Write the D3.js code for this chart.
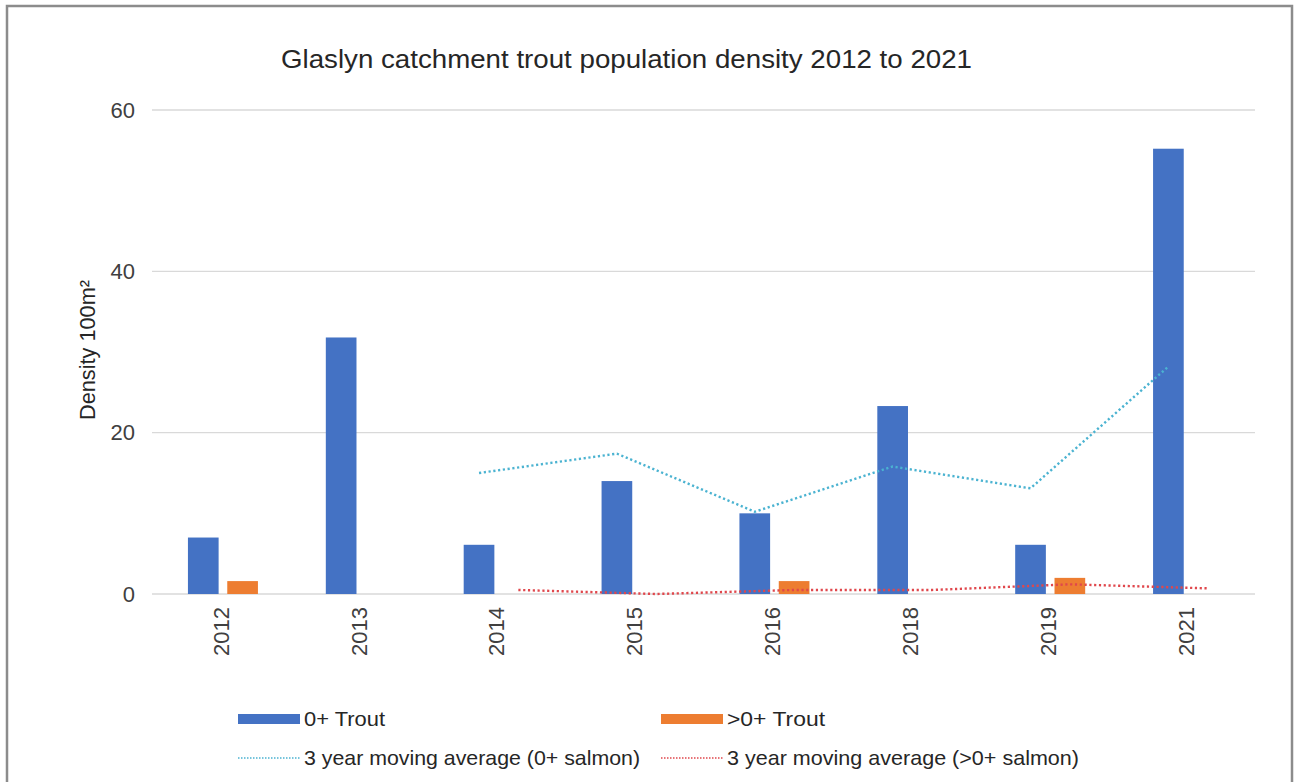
<!DOCTYPE html>
<html><head><meta charset="utf-8">
<script src="https://cdn.jsdelivr.net/npm/d3@7"></script>
<style>
html,body{margin:0;padding:0;background:#fff;}
svg{display:block;font-family:"Liberation Sans",Arial,sans-serif;}
</style></head>
<body><svg id="chart" width="1295" height="782"></svg>
<script>
const categories = ["2012","2013","2014","2015","2016","2018","2019","2021"];
const trout0 = [7.0, 31.8, 6.1, 14.0, 10.0, 23.3, 6.1, 55.2];
const troutOlder = [1.6, 0, 0, 0, 1.6, 0, 2.0, 0];
const ma0 = [null, null, 15.0, 17.4, 10.2, 15.8, 13.1, 28.2];
const maOlder = [null, null, 0.5, 0.0, 0.5, 0.5, 1.2, 0.7];
const yTicks = [0, 20, 40, 60];
const seriesNames = ["0+ Trout", ">0+ Trout"];
const lineNames = ["3 year moving average (0+ salmon)", "3 year moving average (>0+ salmon)"];
const title = "Glaslyn catchment trout population density 2012 to 2021";
const yLabel = "Density 100m²";

const colors = {blue:"#4472C4", orange:"#ED7D31", cyan:"#4BB3D1", red:"#E0474C", grid:"#d9d9d9", text:"#404040"};

const svg = d3.select("#chart");
// frame
svg.append("rect").attr("x",7).attr("y",6).attr("width",1285).attr("height",790)
  .attr("fill","#fff").attr("stroke","#8c8c8c").attr("stroke-width",2.5);

const pLeft = 152, pRight = 1255, pTop = 110, pBottom = 594;
const x = d3.scaleBand().domain(categories).range([pLeft, pRight]).padding(0);
const y = d3.scaleLinear().domain([0, 60]).range([pBottom, pTop]);
const sub = d3.scaleBand().domain(seriesNames).range([-33, 37]).paddingInner(0.22);

// gridlines
svg.append("g").selectAll("line").data(yTicks).join("line")
  .attr("x1", pLeft).attr("x2", pRight)
  .attr("y1", d => y(d)).attr("y2", d => y(d))
  .attr("stroke", colors.grid).attr("stroke-width", 1.3);

// y axis labels
const yAxis = d3.axisLeft(y).tickValues(yTicks).tickSize(0).tickPadding(0);
const gy = svg.append("g").attr("transform", `translate(135,0)`).call(yAxis);
gy.select(".domain").remove();
gy.selectAll("text").attr("font-size", 22).attr("fill", colors.text)
  .attr("font-family", '"Liberation Sans",Arial,sans-serif');

// x axis labels
const xAxis = d3.axisBottom(x).tickSize(0).tickPadding(0);
const gx = svg.append("g").attr("transform", `translate(0,${pBottom})`).call(xAxis);
gx.select(".domain").remove();
gx.selectAll("text").attr("font-size", 22).attr("fill", colors.text)
  .attr("font-family", '"Liberation Sans",Arial,sans-serif')
  .attr("transform", "rotate(-90)").attr("text-anchor", "end")
  .attr("x", -13).attr("y", 0).attr("dy", "0.35em");

// bars
const cx = c => x(c) + x.bandwidth() / 2;
const barData = [];
categories.forEach((c, i) => {
  barData.push({c, s: seriesNames[0], v: trout0[i], color: colors.blue});
  barData.push({c, s: seriesNames[1], v: troutOlder[i], color: colors.orange});
});
svg.append("g").selectAll("rect").data(barData.filter(d => d.v > 0)).join("rect")
  .attr("x", d => cx(d.c) + sub(d.s))
  .attr("width", sub.bandwidth())
  .attr("y", d => y(d.v))
  .attr("height", d => y(0) - y(d.v))
  .attr("fill", d => d.color);

// moving average lines
function drawLine(vals, s, color) {
  const pts = categories.map((c, i) => ({c, v: vals[i]})).filter(d => d.v !== null);
  const line = d3.line().x(d => cx(d.c) + sub(s) + sub.bandwidth() / 2).y(d => y(d.v));
  svg.append("path").datum(pts).attr("d", line)
    .attr("fill", "none").attr("stroke", color).attr("stroke-width", 2.4)
    .attr("stroke-dasharray", "2.2,2.6");
}
drawLine(ma0, seriesNames[0], colors.cyan);
drawLine(maOlder, seriesNames[1], colors.red);

// title
svg.append("text").attr("x", 626.5).attr("y", 68).attr("text-anchor", "middle")
  .attr("font-size", 26).attr("fill", "#262626")
  .attr("textLength", 691).attr("lengthAdjust", "spacingAndGlyphs").text(title);

// y label
svg.append("text").attr("transform", "translate(95,350) rotate(-90)")
  .attr("text-anchor", "middle").attr("font-size", 22).attr("fill", "#262626")
  .attr("textLength", 140).attr("lengthAdjust", "spacingAndGlyphs").text(yLabel);

// legend
const leg = svg.append("g");
const legItems = [
  {type:"bar", color:colors.blue, name:seriesNames[0], x:238, y:719, w:81},
  {type:"bar", color:colors.orange, name:seriesNames[1], x:661, y:719, w:98},
  {type:"line", color:colors.cyan, name:lineNames[0], x:238, y:758, w:336},
  {type:"line", color:colors.red, name:lineNames[1], x:661, y:758, w:352}
];
legItems.forEach(d => {
  if (d.type === "bar") {
    leg.append("rect").attr("x", d.x).attr("y", d.y - 5).attr("width", 62).attr("height", 10).attr("fill", d.color);
  } else {
    leg.append("line").attr("x1", d.x).attr("x2", d.x + 62).attr("y1", d.y).attr("y2", d.y)
      .attr("stroke", d.color).attr("stroke-width", 1.5).attr("stroke-dasharray", "1.5,1.5");
  }
  leg.append("text").attr("x", d.x + 66).attr("y", d.y).attr("dy", "0.35em")
    .attr("font-size", 21).attr("fill", "#262626")
    .attr("textLength", d.w).attr("lengthAdjust", "spacingAndGlyphs").text(d.name);
});
</script></body></html>
